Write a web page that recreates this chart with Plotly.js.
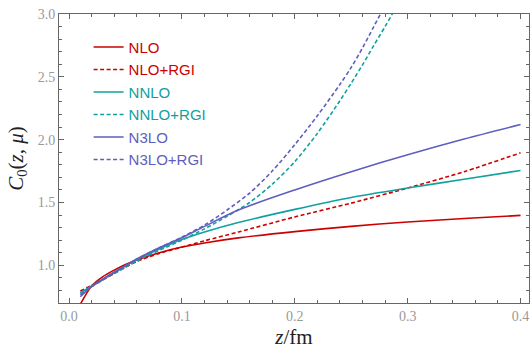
<!DOCTYPE html>
<html>
<head>
<meta charset="utf-8">
<script src="https://cdn.plot.ly/plotly-3.0.1.min.js"></script>
<style>html,body{margin:0;padding:0;background:#fff;}#chart{width:530px;height:354px;}</style>
</head>
<body>
<div id="chart"></div>
<script>
// z values (fm)
const z = [0.01, 0.02, 0.03, 0.04, 0.05, 0.06, 0.08, 0.10, 0.12, 0.15, 0.20, 0.25, 0.30, 0.35, 0.40];
const nlo    = [0.69, 0.835, 0.91, 0.962, 1.007, 1.043, 1.10, 1.145, 1.178, 1.218, 1.268, 1.31, 1.345, 1.372, 1.397];
const nloRgi = [0.795, 0.84, 0.885, 0.935, 0.985, 1.03, 1.095, 1.145, 1.195, 1.265, 1.385, 1.495, 1.615, 1.745, 1.895];
const nnlo   = [0.78, 0.835, 0.89, 0.945, 0.995, 1.045, 1.13, 1.205, 1.265, 1.34, 1.445, 1.54, 1.615, 1.685, 1.755];
const n3lo   = [0.75, 0.83, 0.89, 0.945, 0.997, 1.05, 1.14, 1.22, 1.31, 1.44, 1.60, 1.745, 1.88, 2.005, 2.12];

const zRgi    = [0.01, 0.02, 0.03, 0.04, 0.05, 0.06, 0.08, 0.10, 0.12, 0.14, 0.16, 0.18, 0.20, 0.22, 0.24, 0.25, 0.26, 0.27, 0.28, 0.29, 0.30];
const nnloRgi = [0.78, 0.83, 0.885, 0.935, 0.985, 1.035, 1.12, 1.20, 1.29, 1.39, 1.50, 1.645, 1.825, 2.05, 2.31, 2.45, 2.595, 2.75, 2.90, 3.06, 3.23];
const n3loRgi = [0.765, 0.83, 0.885, 0.94, 0.995, 1.05, 1.14, 1.225, 1.32, 1.44, 1.575, 1.75, 1.96, 2.19, 2.44, 2.575, 2.73, 2.90, 3.07, 3.25, 3.45];

const names = ['NLO', 'NLO+RGI', 'NNLO', 'NNLO+RGI', 'N3LO', 'N3LO+RGI'];
const xTickVals = [0.0, 0.1, 0.2, 0.3, 0.4];
const yTickVals = [1.0, 1.5, 2.0, 2.5, 3.0];

const RED = '#CC0000', TEAL = '#11A0A0', PURPLE = '#5E5EBE';
const DASH = '4px,2.5px';

function tr(x, y, name, color, dashed) {
  return {
    x: x, y: y, type: 'scatter', mode: 'lines',
    name: '<span style="color:' + color + '">' + name + '</span>',
    line: {color: color, width: 1.6, dash: dashed ? DASH : 'solid', shape: 'spline', smoothing: 0.8},
    hoverinfo: 'skip'
  };
}

const data = [
  tr(z, nlo, names[0], RED, false),
  tr(z, nloRgi, names[1], RED, true),
  tr(z, nnlo, names[2], TEAL, false),
  tr(zRgi, nnloRgi, names[3], TEAL, true),
  tr(z, n3lo, names[4], PURPLE, false),
  tr(zRgi, n3loRgi, names[5], PURPLE, true)
];

const axisCommon = {
  showgrid: false, zeroline: false,
  showline: true, linecolor: '#666', linewidth: 1,
  mirror: 'allticks', ticks: 'inside', ticklen: 5, tickcolor: '#666', tickwidth: 1,
  tickfont: {family: 'Liberation Serif', size: 14, color: '#999'},
  tickformat: '.1f'
};

const layout = {
  width: 530, height: 354,
  margin: {l: 59, r: 1, t: 14, b: 51},
  paper_bgcolor: '#fff', plot_bgcolor: '#fff',
  showlegend: true,
  legend: {
    x: 0.063, y: 0.942, xanchor: 'left', yanchor: 'top',
    bgcolor: 'rgba(0,0,0,0)', borderwidth: 0,
    font: {family: 'Liberation Sans', size: 15, color: '#333'},
    itemwidth: 30
  },
  xaxis: Object.assign({}, axisCommon, {
    range: [-0.0089, 0.4075],
    tickvals: xTickVals,
    minor: {dtick: 0.02, tick0: 0, ticks: 'inside', ticklen: 3, tickcolor: '#666', showgrid: false},
    title: {text: '<i>z</i>/fm', font: {family: 'Liberation Serif', size: 21, color: '#222'}, standoff: 6}
  }),
  yaxis: Object.assign({}, axisCommon, {
    range: [0.70, 3.0],
    tickvals: yTickVals,
    minor: {dtick: 0.1, tick0: 0, ticks: 'inside', ticklen: 3, tickcolor: '#666', showgrid: false},
    title: {text: '<i>C</i><sub>0</sub>(<i>z</i>, <i>μ</i>)', font: {family: 'Liberation Serif', size: 21, color: '#222'}, standoff: 8}
  })
};

Plotly.newPlot('chart', data, layout, {displayModeBar: false, staticPlot: true});
</script>
</body>
</html>
